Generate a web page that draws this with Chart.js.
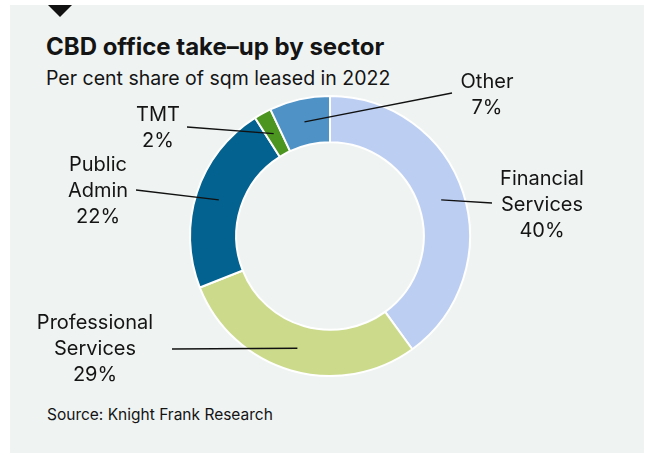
<!DOCTYPE html>
<html>
<head>
<meta charset="utf-8">
<script src="https://cdn.jsdelivr.net/npm/chart.js@4.4.0/dist/chart.umd.min.js"></script>
<style>
  html, body { margin: 0; padding: 0; background: #ffffff; }
  body { width: 646px; height: 455px; position: relative; overflow: hidden; font-family: Inter, "Noto Sans", sans-serif; color: #141414; }
  .panel { position: absolute; left: 10px; top: 5px; width: 634px; height: 448px; background: #eff3f2; }
  .tri { position: absolute; left: 48px; top: 5px; width: 0; height: 0;
         border-left: 12px solid transparent; border-right: 12px solid transparent; border-top: 12px solid #111; }
  .title { position: absolute; left: 46px; top: 32px; font-size: 24px; font-weight: 700; white-space: nowrap; }
  .sub { position: absolute; left: 46px; top: 66px; font-size: 19.5px; white-space: nowrap; }
  .src { position: absolute; left: 47px; top: 405px; font-size: 15.5px; white-space: nowrap; }
  #myChart { position: absolute; left: 0; top: 0; }
</style>
</head>
<body>
<div class="panel"></div>
<div class="tri"></div>
<div class="title">CBD office take–up by sector</div>
<div class="sub">Per cent share of sqm leased in 2022</div>
<div class="src">Source: Knight Frank Research</div>
<canvas id="myChart" width="646" height="455"></canvas>

<script>
// 섹터별 비중 (%)
const categories = ['Financial Services', 'Professional Services', 'Public Admin', 'TMT', 'Other'];
const shares = [40, 29, 22, 2, 7];
const colors = ['#bccff3', '#cbdb8b', '#03628f', '#4b9520', '#4e92c6'];

// 라벨 위치 : 선 끝점(x,y), 글자 중심 x, 첫줄 baseline
const labelPos = [
  { lx: 492, ly: 203, tx: 542, ty: 185 },
  { lx: 172, ly: 349, tx: 95,  ty: 329 },
  { lx: 136, ly: 190, tx: 98,  ty: 171 },
  { lx: 187, ly: 127, tx: 158, ty: 121 },
  { lx: 452, ly: 93,  tx: 487, ty: 88 }
];

// 조각 가운데 -> 라벨 까지 선 그리고 텍스트
const leaderLabels = {
  id: 'leaderLabels',
  afterDatasetsDraw(chart) {
    const c = chart.ctx;
    const meta = chart.getDatasetMeta(0);
    c.save();
    meta.data.forEach((arc, i) => {
      const p = arc.tooltipPosition();
      const pos = labelPos[i];
      c.beginPath();
      c.moveTo(p.x, p.y);
      c.lineTo(pos.lx, pos.ly);
      c.lineWidth = 1.3;
      c.strokeStyle = '#111';
      c.stroke();

      const lines = categories[i].split(' ').concat([shares[i] + '%']);
      c.fillStyle = '#141414';
      c.font = '20px Inter, "Noto Sans", sans-serif';
      c.textAlign = 'center';
      c.textBaseline = 'alphabetic';
      lines.forEach((t, j) => c.fillText(t, pos.tx, pos.ty + j * 26));
    });
    c.restore();
  }
};

const ctx = document.getElementById('myChart');

new Chart(ctx, {
  type: 'doughnut',
  data: {
    labels: categories,
    datasets: [{
      data: shares,
      backgroundColor: colors,
      borderColor: '#ffffff',
      borderWidth: 2
    }]
  },
  options: {
    responsive: false,
    animation: false,
    cutout: '67%',
    layout: { padding: { left: 189, right: 175, top: 95, bottom: 78 } },
    plugins: {
      legend: { display: false },
      tooltip: { enabled: false }
    }
  },
  plugins: [leaderLabels]
});
</script>
</body>
</html>
